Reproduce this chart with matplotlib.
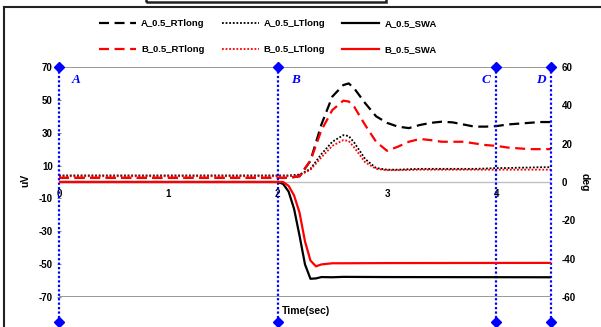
import matplotlib
matplotlib.use('Agg')
import matplotlib.pyplot as plt
from matplotlib.lines import Line2D
from matplotlib.patches import Rectangle

plt.rcParams['font.family'] = ['Liberation Sans', 'DejaVu Sans']
plt.rcParams['font.weight'] = 'bold'
plt.rcParams['axes.unicode_minus'] = False

## data
t_long = [0.0, 0.5, 1.0, 1.5, 2.0, 2.1, 2.2, 2.3, 2.4, 2.5, 2.6, 2.65, 2.7, 2.8, 2.9,
          3.0, 3.1, 3.2, 3.3, 3.4, 3.5, 3.6, 3.7, 3.8, 3.9, 4.0, 4.1, 4.2, 4.3, 4.4, 4.5]
a_rtlong = [2.5, 2.5, 2.5, 2.5, 2.5, 2.5, 3.5, 13.0, 35.0, 52.0, 59.0, 60.0, 57.0, 48.0, 40.0,
            36.0, 33.7, 32.8, 34.7, 36.0, 36.7, 36.3, 35.0, 33.7, 33.7, 34.0, 35.0, 35.5, 36.0, 36.5, 36.5]
b_rtlong = [2.5, 2.5, 2.5, 2.5, 2.5, 2.5, 3.5, 13.0, 31.5, 43.8, 49.5, 49.0, 45.8, 34.7, 24.5,
            19.0, 21.5, 24.5, 26.2, 25.5, 24.5, 24.5, 24.5, 23.5, 22.5, 22.0, 21.0, 20.5, 20.0, 20.0, 20.0]
a_ltlong = [4.0, 4.0, 4.0, 4.0, 4.0, 4.0, 4.5, 8.0, 17.0, 24.5, 28.5, 28.0, 24.0, 14.0, 8.5,
            7.5, 7.5, 7.8, 8.0, 8.0, 8.0, 8.0, 8.0, 8.0, 8.2, 8.5, 8.5, 8.7, 8.8, 9.0, 9.0]
b_ltlong = [3.5, 3.5, 3.5, 3.5, 3.5, 3.5, 4.0, 7.5, 15.0, 22.0, 25.5, 25.0, 21.0, 12.0, 8.0,
            7.2, 7.2, 7.3, 7.5, 7.5, 7.5, 7.5, 7.5, 7.5, 7.5, 7.5, 7.5, 7.5, 7.5, 7.5, 7.5]

t_swa = [0.0, 2.0, 2.05, 2.1, 2.15, 2.2, 2.25, 2.3, 2.35, 2.4, 2.5, 2.6, 3.0, 4.5]
a_swa = [0.0, 0.0, -1.0, -5.0, -14.0, -28.0, -43.0, -50.5, -50.3, -49.6, -49.7, -49.5, -49.6, -49.7]
b_swa = [0.0, 0.0, 0.0, -2.0, -7.0, -16.0, -31.0, -41.0, -44.0, -43.0, -42.4, -42.4, -42.3, -42.2]

markers_x = [0.0, 2.0, 4.0, 4.5]
markers_lbl = ['A', 'B', 'C', 'D']

x_ticks = [0, 1, 2, 3, 4]
uv_ticks = [70, 50, 30, 10, -10, -30, -50, -70]
deg_ticks = [60, 40, 20, 0, -20, -40, -60]

## figure
fig = plt.figure(figsize=(6.01, 3.27), dpi=100)
ax = fig.add_axes([59 / 601, 1 - 297 / 327, 492 / 601, 230 / 327])
ax2 = ax.twinx()

ax.set_xlim(0, 4.5)
ax.set_ylim(-70, 70)
ax2.set_ylim(-60, 60)

for a in (ax, ax2):
    for s in a.spines.values():
        s.set_visible(False)

# reference lines
ax.axhline(70, color='#888888', lw=1.2, zorder=1)
ax.axhline(-70, color='#888888', lw=1.2, zorder=1)
ax.axhline(0, color='#c0c0c0', lw=1.0, zorder=1)

# curves
ax.plot(t_long, a_rtlong, color='black', ls=(0, (4.5, 2.5)), lw=1.6, label='A_0.5_RTlong', zorder=3)
ax.plot(t_long, b_rtlong, color='red', ls=(0, (4.5, 2.5)), lw=1.6, label='B_0.5_RTlong', zorder=3)
ax.plot(t_long, a_ltlong, color='black', ls=(0, (1, 1)), lw=1.3, label='A_0.5_LTlong', zorder=3)
ax.plot(t_long, b_ltlong, color='red', ls=(0, (1, 1)), lw=1.3, label='B_0.5_LTlong', zorder=3)
ax2.plot(t_swa, a_swa, color='black', lw=1.6, label='A_0.5_SWA', zorder=3)
ax2.plot(t_swa, b_swa, color='red', lw=1.6, label='B_0.5_SWA', zorder=3)

# event markers
for xm, lbl in zip(markers_x, markers_lbl):
    ax.plot([xm, xm], [70, -85.5], color='blue', ls=(0, (1, 1)), lw=1.6,
            marker='D', markersize=5, clip_on=False, zorder=4)
    if lbl in ('A', 'B'):
        ax.text(xm + 0.12, 62, lbl, color='blue', ha='left', va='center', fontsize=9.5,
                family='Liberation Serif', style='italic', weight='bold')
    else:
        ax.text(xm - 0.05, 62, lbl, color='blue', ha='right', va='center', fontsize=9.5,
                family='Liberation Serif', style='italic', weight='bold')

# ticks
ax.set_xticks(x_ticks)
ax.set_xticklabels([str(v) for v in x_ticks])
ax.xaxis.set_ticks_position('bottom')
ax.spines['bottom'].set_position(('data', 0))
ax.tick_params(axis='x', length=0, pad=5, labelsize=7)
ax.set_yticks(uv_ticks)
ax.tick_params(axis='y', length=3, color='#888888', direction='inout', labelsize=7, pad=3)
ax2.set_yticks(deg_ticks)
ax2.tick_params(axis='y', length=0, labelsize=7, pad=8)
for lab in ax.get_xticklabels() + ax.get_yticklabels() + ax2.get_yticklabels():
    lab.set_fontweight('bold')

# axis labels
fig.text(25 / 601, 1 - 180 / 327, 'uV', rotation=90, ha='center', va='center', fontsize=7.5, weight='bold')
fig.text(585 / 601, 1 - 182 / 327, 'deg', rotation=270, ha='center', va='center', fontsize=7.5, weight='bold')
fig.text(282 / 601, 1 - 311 / 327, 'Time(sec)', ha='left', va='center', fontsize=7.5, weight='bold')

# legend
h, l = ax.get_legend_handles_labels()
h2, l2 = ax2.get_legend_handles_labels()
handles = [h[0], h[1], h[2], h[3], h2[0], h2[1]]
labels = [l[0], l[1], l[2], l[3], l2[0], l2[1]]
fig.legend(handles, labels, ncol=3, loc='upper center', bbox_to_anchor=(268 / 601, 1 - 11 / 327),
           frameon=False, handlelength=3.9, columnspacing=1.8, labelspacing=1.75,
           handletextpad=0.55, prop={'weight': 'bold', 'size': 6.8})

# outer frame and top box
fig.add_artist(Line2D([4 / 601, 1.0], [1 - 7 / 327, 1 - 7 / 327], color='#222222', lw=1.5))
fig.add_artist(Line2D([4 / 601, 4 / 601], [0.0, 1 - 7 / 327], color='#222222', lw=1.5))
fig.add_artist(Rectangle((146 / 601, 1 - 1.5 / 327), 240 / 601, 20 / 327, fill=False,
                         edgecolor='#222222', lw=1.8))

fig.savefig('out.png', dpi=100)
